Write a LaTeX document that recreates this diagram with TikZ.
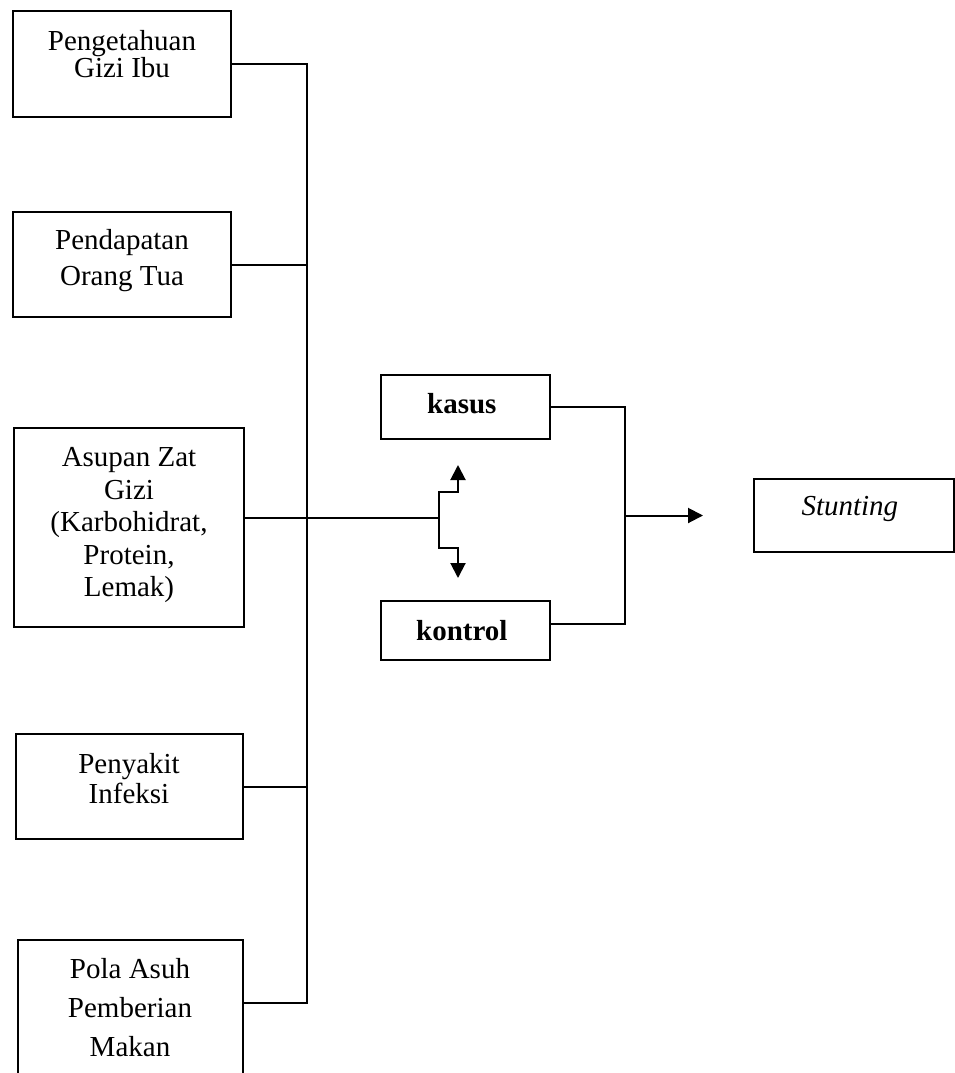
\documentclass[tikz,border=0pt]{standalone}
\usepackage{fontspec}
\setmainfont{Liberation Serif}
\usepackage{tikz}
\usetikzlibrary{shapes,positioning,arrows.meta}

\begin{document}
\begin{tikzpicture}[x=1pt,y=-1pt,font=\fontsize{29}{33}\selectfont,line width=2pt,
    >={Triangle[width=15pt,length=15pt]}]

\useasboundingbox (0,0) rectangle (955,1073);

\node[draw,
    minimum width=218pt,
    minimum height=106pt,
    align=center,
    font=\fontsize{29}{27}\selectfont,
    text depth=20.8pt
] (block1) at (122,64) { Pengetahuan\\Gizi Ibu };

\node[draw,
    below=93pt of block1,
    minimum width=218pt,
    minimum height=105pt,
    align=center,
    font=\fontsize{29}{36}\selectfont,
    text depth=14.8pt
] (block2) { Pendapatan\\Orang Tua };

\node[draw,
    below=109pt of block2,
    xshift=7pt,
    minimum width=230pt,
    minimum height=199pt,
    align=center,
    font=\fontsize{29}{32.5}\selectfont,
    text depth=10.8pt
] (block3) { Asupan Zat\\Gizi\\(Karbohidrat,\\Protein,\\Lemak) };

\node[draw,
    below=105pt of block3,
    minimum width=227pt,
    minimum height=105pt,
    align=center,
    font=\fontsize{29}{30}\selectfont,
    text depth=16.8pt
] (block4) { Penyakit\\Infeksi };

\node[draw,
    below=99pt of block4,
    xshift=1pt,
    minimum width=225pt,
    minimum height=146pt,
    align=center,
    font=\fontsize{29}{39}\selectfont,
    text depth=11.8pt
] (block5) { Pola Asuh\\Pemberian\\Makan };

\node[draw,
    minimum width=169pt,
    minimum height=64pt,
    align=center,
    font=\fontsize{29}{33}\selectfont\bfseries,
    text depth=7.6pt
] (blockKasus) at (465.5,407) { kasus };

\node[draw,
    below=160pt of blockKasus,
    minimum width=169pt,
    minimum height=59pt,
    align=center,
    font=\fontsize{29}{33}\selectfont\bfseries
] (blockKontrol) { kontrol };

\node[draw,
    minimum width=200pt,
    minimum height=73pt,
    text depth=18.5pt,
    align=center
] (blockStunting) at (853.5,515.5) { \textit{Stunting} };

% left bus
\coordinate (busEnd) at (307,1003);
\draw (block1.east) -| (busEnd) -- (block5.east |- busEnd);
\draw (block2.east) -- (busEnd |- block2.east);
\draw (block4.east) -- (busEnd |- block4.east);

% split to kasus / kontrol
\coordinate (split) at (439,518);
\draw (block3.east |- split) -- (split);
\draw[->] (split) |- ++(19,-26) -- ++(0,-27);
\draw[->] (split) |- ++(19,30) -- ++(0,30);

% right bus
\coordinate (rbusEnd) at (625,624);
\draw (blockKasus.east) -| (rbusEnd) -- (blockKontrol.east |- rbusEnd);
\draw[->] (rbusEnd |- blockStunting.west) -- ++(78,0);

\end{tikzpicture}
\end{document}
